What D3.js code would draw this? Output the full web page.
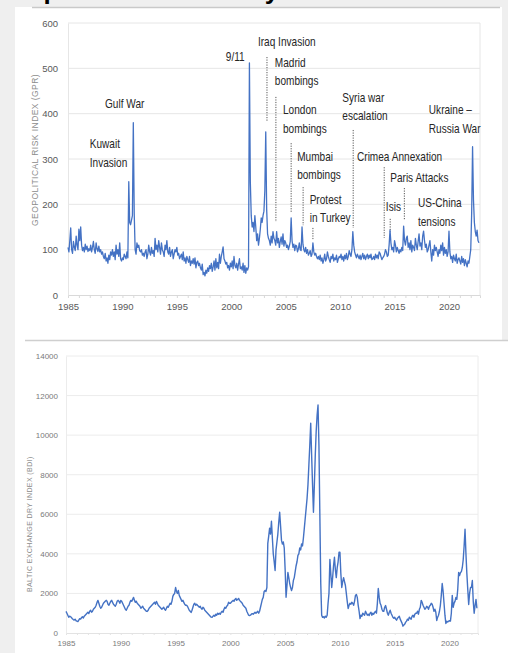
<!DOCTYPE html>
<html lang="en">
    <head>
        <meta charset="utf-8">
        <title>GPR vs BDI</title>
        <script src="https://d3js.org/d3.v7.min.js"></script>
        <style type="text/css">
            body { margin: 0; background: #efefef; }
            .ann { font-family: "Liberation Sans", Arial, sans-serif; font-size: 12px; fill: #262626; }
            .tick1 { font-family: "Liberation Sans", Arial, sans-serif; font-size: 9.5px; fill: #595959; }
            .tick2 { font-family: "Liberation Sans", Arial, sans-serif; font-size: 8px; fill: #7a7a7a; }
        </style>
    </head>
    <body>
        <script type="text/javascript">

            //Data - monthly, starting Jan 1985
            const startYear = 1985;

            const gprValues = [
                105, 95, 120, 148, 100, 92, 118, 105, 98, 130, 110, 100,   //1985
                145, 120, 150, 110, 98, 105, 95, 112, 100, 108, 96, 102,   //1986
                98, 110, 95, 105, 118, 100, 92, 115, 102, 96, 108, 95,     //1987
                100, 90, 95, 85, 80, 92, 75, 82, 70, 88, 78, 95,           //1988
                88, 100, 85, 95, 78, 110, 90, 100, 85, 115, 80, 75,        //1989
                82, 78, 90, 85, 80, 95, 82, 250, 160, 155, 165, 175,       //1990
                380, 180, 100, 90, 115, 105, 110, 98, 95, 100, 88, 92,     //1991
                85, 95, 100, 80, 90, 110, 95, 88, 105, 92, 98, 85,         //1992
                125, 100, 110, 95, 120, 105, 90, 115, 100, 95, 85, 110,    //1993
                100, 120, 95, 90, 105, 85, 95, 100, 80, 90, 100, 95,       //1994
                105, 88, 92, 80, 85, 90, 78, 95, 75, 82, 70, 85,           //1995
                78, 72, 85, 65, 75, 70, 80, 68, 82, 60, 72, 75,            //1996
                65, 70, 60, 55, 68, 45, 50, 42, 55, 48, 60, 52,            //1997
                65, 58, 70, 52, 62, 75, 55, 80, 60, 72, 58, 90,            //1998
                70, 85, 95, 106, 80, 75, 68, 72, 60, 65, 55, 70,           //1999
                62, 75, 58, 85, 65, 60, 70, 55, 68, 80, 58, 62,            //2000
                55, 70, 50, 65, 48, 60, 55, 62, 512, 250, 175, 150,        //2001
                160, 140, 175, 150, 120, 135, 110, 125, 145, 170, 160, 175,//2002
                185, 230, 360, 190, 135, 125, 120, 110, 130, 115, 140, 125,//2003
                120, 110, 140, 115, 125, 105, 118, 128, 112, 135, 108, 120,//2004
                115, 105, 110, 100, 108, 118, 170, 120, 105, 112, 98, 110, //2005
                108, 95, 102, 115, 100, 98, 150, 112, 100, 95, 105, 92,    //2006
                100, 88, 92, 98, 85, 90, 115, 95, 88, 92, 85, 80,          //2007
                85, 78, 88, 75, 82, 70, 78, 90, 75, 80, 95, 85,            //2008
                78, 72, 85, 80, 90, 75, 82, 78, 88, 72, 80, 85,            //2009
                82, 90, 78, 85, 75, 88, 80, 92, 78, 85, 98, 90,            //2010
                85, 100, 140, 110, 95, 88, 82, 90, 85, 80, 88, 78,         //2011
                85, 92, 80, 88, 78, 85, 90, 80, 88, 82, 90, 78,            //2012
                80, 85, 78, 90, 82, 88, 80, 95, 92, 85, 78, 82,            //2013
                85, 90, 100, 95, 85, 88, 110, 143, 115, 100, 105, 95,      //2014
                120, 110, 95, 105, 98, 92, 100, 95, 105, 98, 152, 120,     //2015
                110, 125, 130, 105, 115, 100, 120, 95, 110, 105, 98, 125,  //2016
                110, 100, 118, 135, 108, 115, 100, 130, 141, 120, 105, 112,//2017
                95, 100, 110, 120, 95, 75, 100, 88, 110, 98, 105, 95,      //2018
                85, 100, 92, 110, 98, 115, 88, 105, 92, 100, 85, 95,       //2019
                141, 95, 80, 85, 72, 88, 80, 75, 90, 70, 78, 82,           //2020
                75, 68, 85, 72, 80, 65, 78, 70, 62, 75, 70, 85,            //2021
                100, 180, 327, 210, 160, 140, 130, 143, 120, 115           //2022
            ];

            const bdiValues = [
                1090, 1000, 900, 800, 850, 820, 780, 720, 680, 650, 700, 620,        //1985
                600, 580, 650, 720, 700, 780, 820, 760, 850, 900, 950, 1000,         //1986
                1050, 980, 1100, 1150, 1050, 1100, 1200, 1250, 1300, 1400, 1550, 1650, //1987
                1500, 1350, 1250, 1300, 1400, 1500, 1550, 1600, 1650, 1600, 1450, 1400, //1988
                1500, 1600, 1650, 1550, 1450, 1400, 1350, 1450, 1600, 1650, 1600, 1500, //1989
                1650, 1600, 1500, 1400, 1300, 1200, 1150, 1250, 1350, 1400, 1550, 1650, //1990
                1600, 1700, 1800, 1650, 1550, 1600, 1500, 1450, 1400, 1350, 1250, 1300, //1991
                1350, 1250, 1200, 1150, 1100, 1090, 1150, 1250, 1300, 1350, 1400, 1450, //1992
                1500, 1550, 1450, 1600, 1500, 1400, 1350, 1300, 1250, 1200, 1250, 1300, //1993
                1200, 1150, 1250, 1350, 1300, 1400, 1500, 1450, 1600, 1850, 1950, 2000, //1994
                2300, 2100, 2000, 2150, 1900, 1800, 1700, 1600, 1650, 1550, 1450, 1400, //1995
                1400, 1350, 1250, 1150, 1100, 1040, 1150, 1300, 1450, 1500, 1400, 1450, //1996
                1400, 1350, 1300, 1350, 1250, 1200, 1300, 1250, 1150, 1100, 1050, 1000, //1997
                950, 900, 850, 800, 790, 850, 900, 850, 950, 900, 1000, 950,         //1998
                1000, 950, 1050, 1100, 1050, 1200, 1300, 1250, 1350, 1400, 1550, 1500, //1999
                1500, 1550, 1600, 1650, 1600, 1700, 1750, 1650, 1700, 1750, 1650, 1600, //2000
                1550, 1500, 1400, 1350, 1300, 1250, 1100, 1000, 900, 880, 900, 950,  //2001
                980, 950, 1000, 1050, 1000, 1050, 1100, 1000, 1100, 1300, 1500, 1700, //2002
                1800, 2100, 2150, 2100, 2300, 4530, 4900, 5300, 5000, 5650, 4800, 4000, //2003
                3600, 3160, 4200, 4600, 5000, 5600, 6100, 5400, 4680, 4500, 4600, 4300, //2004
                3200, 1810, 2400, 3060, 2800, 2500, 2300, 2150, 2300, 2650, 2800, 3100, //2005
                3400, 3600, 3920, 4000, 4300, 4200, 4500, 4400, 4800, 5300, 5800, 6300, //2006
                6800, 7500, 8500, 9500, 10600, 9000, 7500, 6100, 7500, 9000, 10200, 11000, //2007
                11520, 9500, 6000, 2500, 900, 790, 820, 760, 850, 800, 900, 1500,    //2008
                2000, 3720, 3000, 2300, 2800, 3400, 3830, 3200, 2800, 3300, 3600, 4080, //2009
                4080, 3000, 2300, 2600, 2800, 2600, 2400, 2000, 1600, 1240, 1400, 1500, //2010
                1450, 1550, 1500, 1400, 1600, 1900, 1950, 1800, 1400, 1100, 730, 900, //2011
                850, 1000, 950, 900, 1100, 1000, 900, 950, 880, 1000, 1050, 900,     //2012
                1000, 950, 1040, 1100, 1000, 1500, 2250, 1800, 1500, 1400, 1200, 1100, //2013
                1100, 1300, 1390, 1200, 1000, 900, 1050, 1150, 1000, 900, 800, 750,  //2014
                800, 700, 650, 750, 800, 850, 700, 600, 500, 345, 400, 450,          //2015
                550, 600, 700, 650, 800, 750, 700, 850, 900, 800, 950, 1000,         //2016
                1000, 1100, 950, 1200, 1300, 1650, 1550, 1400, 1300, 1200, 1250, 1350, //2017
                1300, 1200, 1350, 1400, 1500, 1450, 1300, 1100, 1200, 1050, 630, 800, //2018
                900, 1100, 1400, 1900, 2500, 2100, 1500, 900, 480, 600, 550, 600,    //2019
                620, 600, 1000, 1900, 1300, 1500, 1600, 1800, 1700, 2200, 3060, 2900, //2020
                3060, 3100, 3300, 3700, 4400, 5240, 4000, 3000, 2200, 1440, 2000, 2300, //2021
                2300, 2650, 1600, 1000, 1400, 1700, 1250                             //2022
            ];

            const gprTicks = [0, 100, 200, 300, 400, 500, 600];
            const bdiTicks = [0, 2000, 4000, 6000, 8000, 10000, 12000, 14000];
            const yearTicks = [1985, 1990, 1995, 2000, 2005, 2010, 2015, 2020];

            //event labels (year / GPR value of first baseline)
            const labelLines = [["Gulf War"], ["Kuwait", "Invasion"], ["9/11"], ["Iraq Invasion"],
                ["Madrid", "bombings"], ["London", "bombings"], ["Syria war", "escalation"],
                ["Ukraine \u2013", "Russia War"], ["Mumbai", "bombings"], ["Crimea Annexation"],
                ["Paris Attacks"], ["Protest", "in Turkey"], ["Isis"], ["US-China", "tensions"]];
            const labelYear = [1988.4, 1987.0, 1999.5, 2002.45, 2004.0, 2004.75, 2010.2,
                2018.15, 2006.05, 2011.55, 2014.6, 2007.2, 2014.2, 2017.15];
            const labelValue = [412, 324, 516, 549, 503, 399, 426, 399, 296, 296, 249, 201, 185, 194];

            //dotted leader lines (event date, top value, bottom value)
            const eventYear = [2003.28, 2004.1, 2005.5, 2006.6, 2007.5, 2011.2, 2014.05, 2014.6, 2015.9];
            const eventTop = [525, 437, 335, 238, 148, 364, 282, 168, 236];
            const eventBottom = [382, 161, 183, 154, 121, 148, 126, 139, 165];

            const w = 508;
            const h = 653;
            const blue = "#4472c4";

            const svg = d3.select("body")
                    .append("svg")
                    .attr("width", w)
                    .attr("height", h);

            //page background and panels
            svg.append("rect").attr("width", w).attr("height", h).attr("fill", "#efefef");
            //heading of the page, mostly scrolled out of view in the original
            svg.append("text")
                .attr("x", -7).attr("y", -1)
                .attr("font-family", "Arial, sans-serif").attr("font-weight", "bold")
                .attr("font-size", 26).attr("fill", "#000")
                .text("Geopolitical risk vs dry bulk index");
            svg.append("rect").attr("x", 15).attr("y", 7).attr("width", 487).attr("height", 334).attr("fill", "#fff");
            svg.append("rect").attr("x", 15).attr("y", 340).attr("width", 493).attr("height", 313).attr("fill", "#fff");
            svg.append("line").attr("x1", 32).attr("x2", 500).attr("y1", 7.5).attr("y2", 7.5)
                .attr("stroke", "#c9c9c9").attr("stroke-width", 1.5);
            svg.append("line").attr("x1", 25).attr("x2", 508).attr("y1", 340.5).attr("y2", 340.5)
                .attr("stroke", "#cfcfcf").attr("stroke-width", 1.5);

            //---------- top chart: GPR ----------
            const x1 = d3.scaleLinear().domain([1985, 2022.85]).range([68, 480]);
            const y1 = d3.scaleLinear().domain([0, 600]).range([295, 23]);

            const g1 = svg.append("g");

            g1.selectAll("line.grid")
                .data(gprTicks.slice(1))
                .enter()
                .append("line")
                .attr("x1", x1.range()[0]).attr("x2", x1.range()[1])
                .attr("y1", d => y1(d)).attr("y2", d => y1(d))
                .attr("stroke", "#e6e6e6");
            g1.append("line")
                .attr("x1", x1.range()[1]).attr("x2", x1.range()[1])
                .attr("y1", y1(0)).attr("y2", y1(600))
                .attr("stroke", "#e6e6e6");

            const xAxis1 = d3.axisBottom(x1)
                .tickValues(d3.range(1985, 2023))
                .tickSize(3)
                .tickFormat(d => yearTicks.includes(d) ? d : "");
            g1.append("g")
                .attr("transform", "translate(0," + y1(0) + ")")
                .call(xAxis1)
                .call(a => a.select(".domain").attr("stroke", "#d9d9d9"))
                .call(a => a.selectAll(".tick line").attr("stroke", "#d9d9d9"))
                .call(a => a.selectAll("text").attr("class", "tick1").attr("dy", "0.95em").attr("y", 6));

            const yAxis1 = d3.axisLeft(y1).tickValues(gprTicks).tickSize(0).tickPadding(10);
            g1.append("g")
                .attr("transform", "translate(" + x1.range()[0] + ",0)")
                .call(yAxis1)
                .call(a => a.select(".domain").attr("stroke", "#e6e6e6"))
                .call(a => a.selectAll("text").attr("class", "tick1"));

            g1.append("text")
                .attr("transform", "translate(38," + y1(320) + ") rotate(-90)")
                .attr("text-anchor", "middle")
                .attr("font-family", "Arial, sans-serif")
                .attr("font-size", 8.5)
                .attr("letter-spacing", 0.45)
                .attr("fill", "#8c8c8c")
                .text("GEOPOLITICAL RISK INDEX (GPR)");

            //dotted leaders
            g1.selectAll("line.lead")
                .data(eventYear)
                .enter()
                .append("line")
                .attr("x1", d => x1(d)).attr("x2", d => x1(d))
                .attr("y1", (d, i) => y1(eventTop[i])).attr("y2", (d, i) => y1(eventBottom[i]))
                .attr("stroke", "#555")
                .attr("stroke-width", 1)
                .attr("stroke-dasharray", "1.2,1.3");

            const line1 = d3.line()
                .x((d, i) => x1(startYear + i / 12))
                .y(d => y1(d));
            g1.append("path")
                .datum(gprValues)
                .attr("fill", "none")
                .attr("stroke", blue)
                .attr("stroke-width", 1.3)
                .attr("stroke-linejoin", "round")
                .attr("d", line1);

            //annotations (squeezed to look like the narrow font of the original)
            const labels = g1.selectAll("text.ann")
                .data(labelLines)
                .enter()
                .append("text")
                .attr("class", "ann")
                .attr("transform", (d, i) => "translate(" + x1(labelYear[i]) + "," + y1(labelValue[i]) + ") scale(0.84,1)");
            labels.selectAll("tspan")
                .data(d => d)
                .enter()
                .append("tspan")
                .attr("x", 0)
                .attr("dy", (d, i) => i === 0 ? 0 : 18.5)
                .text(d => d);

            //---------- bottom chart: BDI ----------
            const x2 = d3.scaleLinear().domain([1985, 2022.6]).range([66, 478]);
            const y2 = d3.scaleLinear().domain([0, 14000]).range([633, 356]);

            const g2 = svg.append("g");

            g2.selectAll("line.grid")
                .data(bdiTicks.slice(1))
                .enter()
                .append("line")
                .attr("x1", x2.range()[0]).attr("x2", x2.range()[1])
                .attr("y1", d => y2(d)).attr("y2", d => y2(d))
                .attr("stroke", "#ececec");
            g2.append("line")
                .attr("x1", x2.range()[1]).attr("x2", x2.range()[1])
                .attr("y1", y2(0)).attr("y2", y2(14000))
                .attr("stroke", "#ececec");

            const xAxis2 = d3.axisBottom(x2)
                .tickValues(d3.range(1985, 2023))
                .tickSize(2)
                .tickFormat(d => yearTicks.includes(d) ? d : "");
            g2.append("g")
                .attr("transform", "translate(0," + y2(0) + ")")
                .call(xAxis2)
                .call(a => a.select(".domain").attr("stroke", "#e3e3e3"))
                .call(a => a.selectAll(".tick line").attr("stroke", "#e3e3e3"))
                .call(a => a.selectAll("text").attr("class", "tick2").attr("dy", "0.95em").attr("y", 5));

            const yAxis2 = d3.axisLeft(y2).tickValues(bdiTicks).tickSize(0).tickPadding(8)
                .tickFormat(d3.format("d"));
            g2.append("g")
                .attr("transform", "translate(" + x2.range()[0] + ",0)")
                .call(yAxis2)
                .call(a => a.select(".domain").attr("stroke", "#ececec"))
                .call(a => a.selectAll("text").attr("class", "tick2"));

            g2.append("text")
                .attr("transform", "translate(32," + y2(5500) + ") rotate(-90)")
                .attr("text-anchor", "middle")
                .attr("font-family", "Arial, sans-serif")
                .attr("font-size", 7)
                .attr("letter-spacing", 0.4)
                .attr("fill", "#8c8c8c")
                .text("BALTIC EXCHANGE DRY INDEX (BDI)");

            const line2 = d3.line()
                .x((d, i) => x2(startYear + i / 12))
                .y(d => y2(d));
            g2.append("path")
                .datum(bdiValues)
                .attr("fill", "none")
                .attr("stroke", blue)
                .attr("stroke-width", 1.4)
                .attr("stroke-linejoin", "round")
                .attr("d", line2);

        </script>
    </body>
</html>
